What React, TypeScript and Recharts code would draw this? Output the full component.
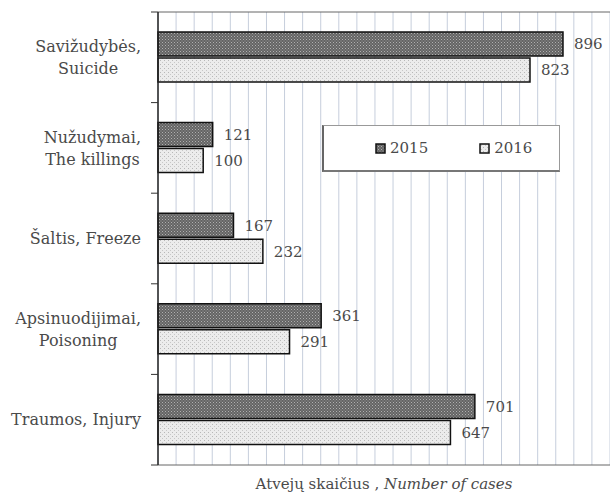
import React from "react";
import { Bar, BarChart, CartesianGrid, LabelList, Legend, XAxis, YAxis } from "recharts";

const categories = [
  ["Savižudybės,", "Suicide"],
  ["Nužudymai,", "The killings"],
  ["Šaltis, Freeze"],
  ["Apsinuodijimai,", "Poisoning"],
  ["Traumos, Injury"],
];
const cases2015 = [896, 121, 167, 361, 701];
const cases2016 = [823, 100, 232, 291, 647];
const xTicks = [
  0, 40, 80, 120, 160, 200, 240, 280, 320, 360, 400, 440, 480, 520, 560, 600, 640, 680, 720, 760, 800, 840,
  880, 920, 960, 1000,
];

const FONT = "'DejaVu Serif', serif";
const TEXT = "#4a4a4a";
const W = 610;
const H = 497;
const TOP = 12;
const AXIS_H = 32;
const Y_W = 158;
const LABEL_RIGHT = 141;
const CAT_SIZE = 16;

const data = categories.map((lines, i) => ({
  name: lines.join(" "),
  lines,
  y2015: cases2015[i],
  y2016: cases2016[i],
}));

let ctx: CanvasRenderingContext2D | null = null;
function textWidth(s: string) {
  if (!ctx) ctx = document.createElement("canvas").getContext("2d");
  if (!ctx) return s.length * 8;
  ctx.font = `${CAT_SIZE}px ${FONT}`;
  return ctx.measureText(s).width;
}

const band = (H - TOP - AXIS_H) / categories.length;

function CategoryTick(props: any) {
  const { y, index } = props;
  const lines: string[] = data[index]?.lines ?? [];
  const maxW = Math.max(...lines.map(textWidth));
  const cx = LABEL_RIGHT - maxW / 2;
  const start = y - ((lines.length - 1) * 22) / 2;
  return (
    <g>
      <line x1={Y_W - 7} x2={Y_W} y1={y - band / 2} y2={y - band / 2} stroke="#333" />
      {index === categories.length - 1 && (
        <line x1={Y_W - 7} x2={Y_W} y1={y + band / 2} y2={y + band / 2} stroke="#333" />
      )}
      <text textAnchor="middle" fontFamily={FONT} fontSize={CAT_SIZE} fill={TEXT}>
        {lines.map((l, i) => (
          <tspan key={i} x={cx} y={start + i * 22} dy="0.35em">
            {l}
          </tspan>
        ))}
      </text>
    </g>
  );
}

const NoTick = () => <g />;

function AxisTitle(props: any) {
  const vb = props.viewBox;
  return (
    <text x={vb.x + vb.width / 2} y={vb.y + 24} textAnchor="middle" fontFamily={FONT} fontSize={15} fill={TEXT}>
      Atvejų skaičius , <tspan fontStyle="italic">Number of cases</tspan>
    </text>
  );
}

function LegendBox() {
  const item = (id: string, label: string, gap: number) => (
    <span style={{ display: "inline-flex", alignItems: "center", marginRight: gap }}>
      <svg width={11} height={11} style={{ marginRight: 4 }}>
        <rect x={1} y={1} width={9} height={9} fill={`url(#${id})`} stroke="#111" strokeWidth={1.5} />
      </svg>
      {label}
    </span>
  );
  return (
    <div
      style={{
        width: 238,
        height: 47,
        boxSizing: "border-box",
        background: "#fff",
        border: "1px solid #999",
        borderLeft: "2px solid #666",
        borderBottom: "2px solid #777",
        display: "flex",
        alignItems: "center",
        paddingLeft: 51,
        fontFamily: FONT,
        fontSize: 15,
        color: TEXT,
      }}
    >
      {item("p2015", "2015", 51)}
      {item("p2016", "2016", 0)}
    </div>
  );
}

export default function App() {
  return (
    <div style={{ position: "absolute", left: 0, top: 0, width: W, height: H, background: "#fff" }}>
      <BarChart
        width={W}
        height={H}
        data={data}
        layout="vertical"
        margin={{ top: TOP, right: 0, bottom: 0, left: 0 }}
        barSize={24}
        barGap={2}
      >
        <defs>
          <pattern id="p2015" width={3} height={3} patternUnits="userSpaceOnUse">
            <rect width={3} height={3} fill="#646464" />
            <rect x={0} y={0} width={1} height={1} fill="#b0b0b0" />
            <rect x={1.5} y={1.5} width={1} height={1} fill="#a0a0a0" />
          </pattern>
          <pattern id="p2016" width={4} height={4} patternUnits="userSpaceOnUse">
            <rect width={4} height={4} fill="#ececec" />
            <rect x={0} y={0} width={1} height={1} fill="#b8b8b8" />
            <rect x={2} y={2} width={1} height={1} fill="#c8c8c8" />
          </pattern>
        </defs>
        <CartesianGrid horizontal={false} stroke="#c6cedc" />
        <CartesianGrid
          vertical={false}
          stroke="#666"
          horizontalCoordinatesGenerator={({ offset }: any) => [offset.top]}
        />
        <XAxis
          type="number"
          domain={[0, 1000]}
          ticks={xTicks}
          interval={0}
          tick={NoTick}
          tickLine={false}
          height={AXIS_H}
          axisLine={{ stroke: "#666" }}
          label={{ content: AxisTitle }}
        />
        <YAxis
          type="category"
          dataKey="name"
          width={Y_W}
          tick={CategoryTick}
          tickLine={false}
          axisLine={{ stroke: "#222", strokeWidth: 1.5 }}
          interval={0}
        />
        <Legend
          layout="horizontal"
          verticalAlign="middle"
          align="center"
          content={LegendBox}
          wrapperStyle={{ left: 322, top: 125, width: 238, height: 47 }}
        />
        <Bar dataKey="y2015" name="2015" fill="url(#p2015)" stroke="#111" strokeWidth={1.5} isAnimationActive={false}>
          <LabelList dataKey="y2015" position="right" offset={11} fill={TEXT} fontFamily={FONT} fontSize={15} />
        </Bar>
        <Bar dataKey="y2016" name="2016" fill="url(#p2016)" stroke="#111" strokeWidth={1.5} isAnimationActive={false}>
          <LabelList dataKey="y2016" position="right" offset={11} fill={TEXT} fontFamily={FONT} fontSize={15} />
        </Bar>
      </BarChart>
    </div>
  );
}
